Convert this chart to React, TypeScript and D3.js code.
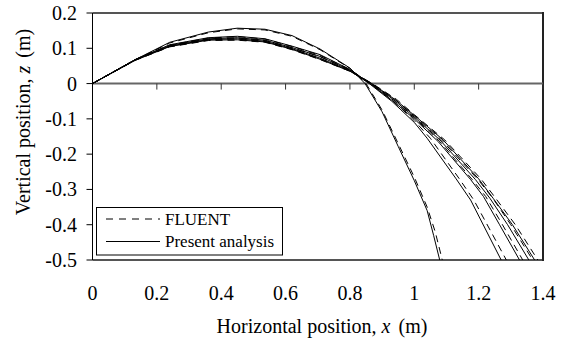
import React from "react";
import * as d3 from "d3";

type P = [number, number];

// Present analysis (solid)
const presentA: P[] = [[0,0],[0.133,0.068],[0.24,0.117],[0.36,0.146],[0.45,0.157],[0.536,0.154],[0.62,0.136],[0.707,0.098],[0.8,0.044],[0.847,0],[0.9,-0.08],[0.95,-0.178],[1.0,-0.275],[1.04,-0.36],[1.06,-0.43],[1.079,-0.5]];
const presentB: P[] = [[0,0],[0.133,0.067],[0.24,0.106],[0.36,0.125],[0.45,0.127],[0.536,0.12],[0.62,0.099],[0.707,0.072],[0.8,0.036],[0.86,0],[0.93,-0.05],[1.0,-0.11],[1.04,-0.155],[1.13,-0.27],[1.175,-0.33],[1.27,-0.5]];
const presentC: P[] = [[0,0],[0.133,0.068],[0.24,0.11],[0.36,0.13],[0.45,0.134],[0.536,0.127],[0.62,0.106],[0.707,0.082],[0.8,0.04],[0.862,0],[0.93,-0.047],[1.0,-0.1],[1.075,-0.165],[1.175,-0.272],[1.215,-0.32],[1.265,-0.4],[1.327,-0.5]];
const presentD: P[] = [[0,0],[0.133,0.068],[0.24,0.108],[0.36,0.127],[0.45,0.13],[0.536,0.123],[0.62,0.102],[0.707,0.077],[0.8,0.038],[0.865,0],[0.935,-0.045],[1.0,-0.095],[1.08,-0.16],[1.19,-0.272],[1.235,-0.325],[1.29,-0.4],[1.356,-0.5]];
const presentE: P[] = [[0,0],[0.133,0.066],[0.24,0.105],[0.36,0.123],[0.45,0.124],[0.536,0.118],[0.62,0.097],[0.707,0.069],[0.8,0.035],[0.868,0],[0.94,-0.045],[1.0,-0.09],[1.09,-0.16],[1.2,-0.27],[1.245,-0.325],[1.305,-0.4],[1.374,-0.5]];

// FLUENT (dashed)
const fluentA: P[] = [[0,0],[0.133,0.067],[0.24,0.115],[0.36,0.144],[0.45,0.155],[0.536,0.152],[0.62,0.134],[0.707,0.096],[0.8,0.043],[0.85,0],[0.9,-0.075],[0.95,-0.17],[1.0,-0.265],[1.04,-0.35],[1.065,-0.42],[1.087,-0.5]];
const fluentB: P[] = [[0,0],[0.133,0.067],[0.24,0.105],[0.36,0.124],[0.45,0.126],[0.536,0.119],[0.62,0.098],[0.707,0.071],[0.8,0.036],[0.865,0],[0.935,-0.05],[1.0,-0.105],[1.05,-0.155],[1.14,-0.27],[1.185,-0.33],[1.286,-0.5]];
const fluentC: P[] = [[0,0],[0.133,0.068],[0.24,0.109],[0.36,0.129],[0.45,0.133],[0.536,0.126],[0.62,0.105],[0.707,0.08],[0.8,0.04],[0.865,0],[0.935,-0.047],[1.0,-0.097],[1.08,-0.165],[1.18,-0.272],[1.222,-0.32],[1.274,-0.4],[1.337,-0.5]];
const fluentD: P[] = [[0,0],[0.133,0.067],[0.24,0.107],[0.36,0.126],[0.45,0.129],[0.536,0.122],[0.62,0.101],[0.707,0.076],[0.8,0.038],[0.868,0],[0.94,-0.045],[1.0,-0.092],[1.085,-0.16],[1.198,-0.272],[1.244,-0.325],[1.3,-0.4],[1.368,-0.5]];
const fluentE: P[] = [[0,0],[0.133,0.066],[0.24,0.104],[0.36,0.122],[0.45,0.123],[0.536,0.117],[0.62,0.096],[0.707,0.068],[0.8,0.035],[0.87,0],[0.945,-0.045],[1.0,-0.088],[1.095,-0.16],[1.207,-0.27],[1.253,-0.325],[1.314,-0.4],[1.384,-0.5]];

const presentSeries = [presentA, presentB, presentC, presentD, presentE];
const fluentSeries = [fluentA, fluentB, fluentC, fluentD, fluentE];

const xTicks = [0, 0.2, 0.4, 0.6, 0.8, 1, 1.2, 1.4];
const yTicks = [0.2, 0.1, 0, -0.1, -0.2, -0.3, -0.4, -0.5];
const legendLabels = ["FLUENT", "Present analysis"];

const W = 569, H = 345;
const L = 92.5, R = 543, T = 13, B = 260;
const FONT = '"Liberation Serif", "Times New Roman", serif';

export default function App() {
  const x = d3.scaleLinear().domain([0, 1.4]).range([L, R]);
  const y = d3.scaleLinear().domain([-0.5, 0.2]).range([B, T]);
  const line = d3.line<P>().x(d => x(d[0])).y(d => y(d[1]));
  const fmt = (v: number) => (Math.abs(v) < 1e-9 ? "0" : String(+v.toFixed(1)));
  const ts = { fontFamily: FONT, fontSize: "20px" } as React.CSSProperties;
  const ls = { fontFamily: FONT, fontSize: "17px" } as React.CSSProperties;

  return (
    <svg width={W} height={H} style={{ position: "absolute", left: 0, top: 0, background: "#fff", fontFamily: FONT }}>
      <rect x={0} y={0} width={W} height={H} fill="#fff" />
      <defs>
        <clipPath id="plotclip"><rect x={L} y={T} width={R - L} height={B - T} /></clipPath>
      </defs>
      {/* frame */}
      <line x1={L} x2={R} y1={T} y2={T} stroke="#555" strokeWidth={2} />
      <line x1={L} x2={R + 1} y1={B} y2={B} stroke="#555" strokeWidth={2} />
      <line x1={R} x2={R} y1={T - 1} y2={B + 1} stroke="#222" strokeWidth={2} />
      {/* zero line / x axis */}
      <line x1={L} x2={R} y1={y(0)} y2={y(0)} stroke="#666" strokeWidth={2} />
      {xTicks.map(t => (
        <line key={"xt" + t} x1={x(t)} x2={x(t)} y1={y(0)} y2={y(0) + 6} stroke="#333" strokeWidth={1} />
      ))}
      {/* y axis */}
      <line x1={L} x2={L} y1={T} y2={B} stroke="#000" strokeWidth={1} />
      {yTicks.map(t => (
        <line key={"yt" + t} x1={L - 6} x2={L} y1={y(t)} y2={y(t)} stroke="#000" strokeWidth={1} />
      ))}
      {/* curves */}
      <g clipPath="url(#plotclip)" fill="none" stroke="#000" strokeWidth={1}>
        {fluentSeries.map((s, i) => (
          <path key={"f" + i} d={line(s) || ""} strokeDasharray="7,5" />
        ))}
        {presentSeries.map((s, i) => (
          <path key={"p" + i} d={line(s) || ""} />
        ))}
      </g>
      {/* tick labels */}
      {yTicks.map(t => (
        <text key={"yl" + t} x={77} y={y(t)} dy="0.35em" textAnchor="end" style={ts}>{fmt(t)}</text>
      ))}
      {xTicks.map(t => (
        <text key={"xl" + t} x={x(t)} y={300} textAnchor="middle" style={ts}>{fmt(t)}</text>
      ))}
      {/* axis titles */}
      <text x={322} y={333} textAnchor="middle" style={ts}>
        Horizontal position, <tspan fontStyle="italic">x</tspan><tspan dx={8}>(m)</tspan>
      </text>
      <text transform={`translate(30,122) rotate(-90)`} textAnchor="middle" style={ts}>
        Vertical position, <tspan fontStyle="italic">z</tspan><tspan dx={8}>(m)</tspan>
      </text>
      {/* legend */}
      <rect x={96.5} y={207.5} width={186} height={47.5} fill="#fff" stroke="#000" strokeWidth={1} />
      <line x1={106} x2={160} y1={219} y2={219} stroke="#000" strokeDasharray="7,6" />
      <line x1={106} x2={160} y1={241.5} y2={241.5} stroke="#000" />
      <text x={165} y={219} dy="0.35em" style={ls}>{legendLabels[0]}</text>
      <text x={165} y={241.5} dy="0.35em" style={ls}>{legendLabels[1]}</text>
    </svg>
  );
}
